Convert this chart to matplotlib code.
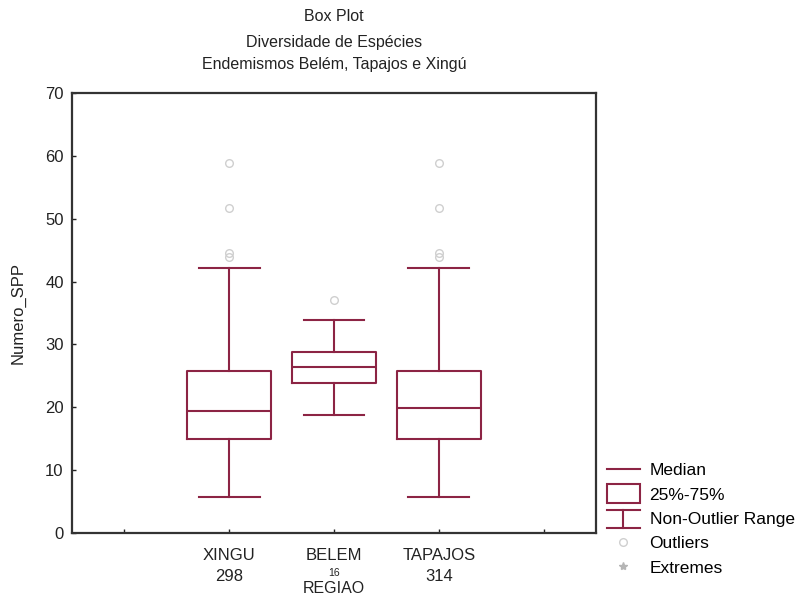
import numpy as np
import matplotlib
matplotlib.use('Agg')
from matplotlib import pyplot as plt
from matplotlib.legend_handler import HandlerBase
from matplotlib.lines import Line2D
from matplotlib.patches import Rectangle

plt.rcParams['font.family'] = ['Liberation Sans', 'DejaVu Sans']

# values
regions = ['XINGU', 'BELEM', 'TAPAJOS']
counts = ['298', '16', '314']
q1 = [15.0, 23.8, 15.0]
med = [19.4, 26.4, 19.9]
q3 = [25.8, 28.8, 25.8]
whislo = [5.7, 18.8, 5.7]
whishi = [42.2, 33.9, 42.2]
outliers = [[58.8, 51.7, 44.5, 43.9], [37.0], [58.8, 51.7, 44.5, 43.9]]

box_color = '#8c2444'
out_color = '#cfcfcf'
text_color = '#222222'
positions = np.arange(len(regions)) + 1.5


class BoxHandler(HandlerBase):
    def create_artists(self, legend, orig, xd, yd, w, h, fontsize, trans):
        r = Rectangle((xd, yd - 0.25 * h), w, 1.5 * h, fill=False,
                      edgecolor=box_color, lw=1.5, transform=trans)
        return [r]


class RangeHandler(HandlerBase):
    def create_artists(self, legend, orig, xd, yd, w, h, fontsize, trans):
        kw = dict(color=box_color, lw=1.5, transform=trans)
        top = Line2D([xd, xd + w], [yd + 1.1 * h, yd + 1.1 * h], **kw)
        bot = Line2D([xd, xd + w], [yd - 0.3 * h, yd - 0.3 * h], **kw)
        mid = Line2D([xd + w / 2, xd + w / 2], [yd - 0.3 * h, yd + 1.1 * h], **kw)
        return [top, bot, mid]


def make_plot():
    fig = plt.figure(figsize=(8.06, 6.0), dpi=100)
    ax = fig.add_axes([0.0893, 0.1117, 0.6502, 0.7333])

    stats = []
    for i in range(len(regions)):
        stats.append(dict(med=med[i], q1=q1[i], q3=q3[i], whislo=whislo[i],
                          whishi=whishi[i], fliers=outliers[i], label=regions[i]))
    line_kw = dict(color=box_color, linewidth=1.5)
    ax.bxp(stats, positions=positions, widths=0.8, capwidths=0.58,
           boxprops=line_kw, whiskerprops=line_kw, capprops=line_kw,
           medianprops=line_kw,
           flierprops=dict(marker='o', markersize=5.5, markerfacecolor='none',
                           markeredgecolor=out_color, markeredgewidth=1))

    ax.set_xlim(0, 5)
    ax.set_ylim(0, 70)
    ax.set_yticks(np.arange(0, 71, 10))
    ax.set_xticks(np.arange(0.5, 5, 1))
    ax.set_xticklabels([''] + regions + [''])
    ax.tick_params(direction='in', length=3, width=1, labelsize=12,
                   colors=text_color, pad=6)
    ax.tick_params(axis='x', pad=11)
    for s in ax.spines.values():
        s.set_linewidth(1.6)
        s.set_color('#333333')

    # group sizes under the tick labels
    trans = ax.get_xaxis_transform()
    for p, c in zip(positions, counts):
        small = c == '16'
        ax.text(p, -0.09 if small else -0.099, c, transform=trans,
                ha='center', va='center', fontsize=7.5 if small else 12,
                color=text_color)
    ax.set_xlabel('REGIAO', fontsize=11.5, labelpad=13, color=text_color)
    ax.set_ylabel('Numero_SPP', fontsize=12, labelpad=14, color=text_color)

    title_lines = ['Box Plot', 'Diversidade de Espécies',
                   'Endemismos Belém, Tapajos e Xingú']
    title_y = [1.175, 1.114, 1.064]
    for t, ty in zip(title_lines, title_y):
        ax.text(0.5, ty, t, transform=ax.transAxes, ha='center', va='center',
                fontsize=11.5, color=text_color)

    handles = [Line2D([], [], color=box_color, lw=1.5),
               Rectangle((0, 0), 1, 1),
               Line2D([], []),
               Line2D([], [], ls='none', marker='o', markersize=5.5,
                      markerfacecolor='none', markeredgecolor=out_color),
               Line2D([], [], ls='none', marker='*', markersize=6,
                      color='#b5b5b5')]
    labels = ['Median', '25%-75%', 'Non-Outlier Range', 'Outliers', 'Extremes']
    fig.legend(handles, labels, loc='upper left',
               bbox_to_anchor=(607 / 806, 1 - 463 / 600),
               frameon=False, fontsize=12.5, handlelength=1.9,
               handletextpad=0.55, labelspacing=0.53, borderpad=0,
               borderaxespad=0,
               handler_map={Rectangle: BoxHandler(),
                            handles[2]: RangeHandler()})

    fig.savefig('out.png', dpi=100)


make_plot()
